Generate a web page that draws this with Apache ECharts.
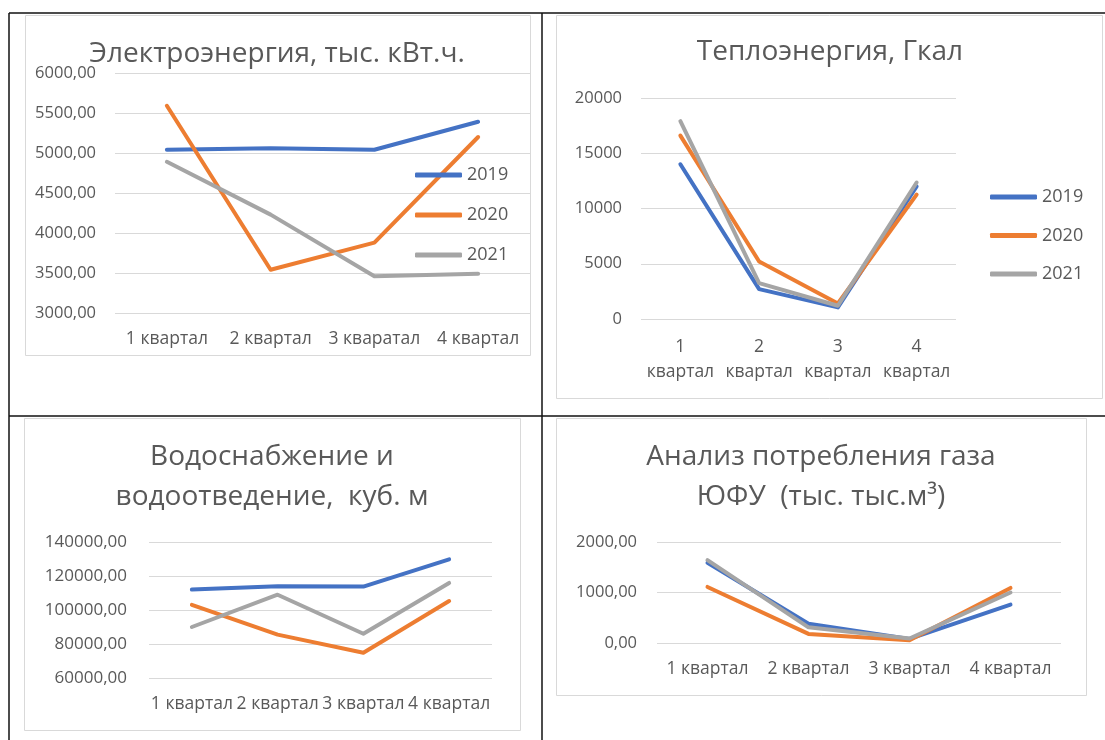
<!DOCTYPE html>
<html><head><meta charset="utf-8">
<script src="https://cdn.jsdelivr.net/npm/echarts@6/dist/echarts.min.js"></script>
<style>html,body{margin:0;padding:0;background:#fff}#c{width:1105px;height:740px}</style>
</head><body><div id="c"></div>
<script>
// ---- data ----
const years = ['2019', '2020', '2021'];
const quartersElectro = ['1 квартал', '2 квартал', '3 кваратал', '4 квартал'];
const quarters = ['1 квартал', '2 квартал', '3 квартал', '4 квартал'];

const electro2019 = [5040, 5060, 5040, 5390];
const electro2020 = [5590, 3540, 3880, 5200];
const electro2021 = [4890, 4230, 3460, 3490];

const heat2019 = [14000, 2700, 1050, 12000];
const heat2020 = [16600, 5200, 1400, 11250];
const heat2021 = [17900, 3250, 1200, 12350];

const water2019 = [112000, 114000, 113800, 129800];
const water2020 = [103000, 85500, 74900, 105300];
const water2021 = [90000, 109000, 86000, 115900];

const gas2019 = [1590, 380, 80, 760];
const gas2020 = [1110, 180, 55, 1090];
const gas2021 = [1640, 310, 90, 1000];

const titles = [
  'Электроэнергия, тыс. кВт.ч.',
  'Теплоэнергия, Гкал',
  'Водоснабжение и\nводоотведение,  куб. м',
  'Анализ потребления газа\nЮФУ  (тыс. тыс.м³)'
];

// ---- styling ----
const FONT = 'Open Sans';
const colors = ['#4472C4', '#ED7D31', '#A5A5A5'];
const txt = '#595959';
const grid = '#D9D9D9';

const grids = [
  {left: 115, top: 73, width: 415, height: 240},
  {left: 641, top: 98, width: 315, height: 221},
  {left: 149, top: 542, width: 343, height: 136},
  {left: 657, top: 542, width: 404, height: 101}
];
const yRanges = [
  {min: 3000, max: 6000, interval: 500, dec: 2, margin: 19},
  {min: 0, max: 20000, interval: 5000, dec: 0, margin: 19},
  {min: 60000, max: 140000, interval: 20000, dec: 2, margin: 22},
  {min: 0, max: 2000, interval: 1000, dec: 2, margin: 20}
];
const cats = [quartersElectro, quarters, quarters, quarters];
const dataSets = [
  [electro2019, electro2020, electro2021],
  [heat2019, heat2020, heat2021],
  [water2019, water2020, water2021],
  [gas2019, gas2020, gas2021]
];

const xAxis = cats.map((c, i) => ({
  type: 'category', gridIndex: i, data: c, boundaryGap: true,
  axisLine: {show: false}, axisTick: {show: false},
  axisLabel: {
    color: txt, fontFamily: FONT, fontSize: 17.5, interval: 0, margin: i === 1 ? 16 : 17,
    lineHeight: i === 1 ? 25 : 19,
    formatter: i === 1 ? (v => v.replace(' ', '\n')) : undefined
  }
}));
const yAxis = yRanges.map((r, i) => ({
  type: 'value', gridIndex: i, min: r.min, max: r.max, interval: r.interval,
  axisLine: {show: false}, axisTick: {show: false},
  splitLine: {lineStyle: {color: grid, width: 1}},
  axisLabel: {
    color: txt, fontFamily: FONT, fontSize: i === 2 ? 17 : 16.5, margin: r.margin,
    formatter: v => r.dec ? v.toFixed(r.dec).replace('.', ',') : String(v)
  }
}));

const series = [];
dataSets.forEach((set, gi) => {
  set.forEach((d, si) => {
    series.push({
      type: 'line', name: years[si], xAxisIndex: gi, yAxisIndex: gi, data: d,
      symbol: 'none', color: colors[si],
      lineStyle: {width: 4, color: colors[si], cap: 'round', join: 'round'},
      animation: false
    });
  });
});

const titleComp = [
  {text: titles[0], left: 277, top: 34},
  {text: titles[1], left: 830, top: 32},
  {text: titles[2], left: 272, top: 437},
  {text: titles[3], left: 821, top: 437}
].map(t => Object.assign(t, {
  textAlign: 'center', padding: 0,
  textStyle: {fontFamily: FONT, fontWeight: 'normal', fontSize: 28, color: txt, lineHeight: 40}
}));

const legendBase = {
  orient: 'vertical', data: years, itemWidth: 47, itemHeight: 5,
  icon: 'roundRect',
  textStyle: {fontFamily: FONT, fontSize: 18, color: txt, lineHeight: 20},
  selectedMode: false
};
const legends = [
  Object.assign({}, legendBase, {left: 410, top: 160, itemGap: 20}),
  Object.assign({}, legendBase, {left: 985, top: 182, itemGap: 18.5})
];

const line = (x1, y1, x2, y2) => ({type: 'line', z: -5, shape: {x1, y1, x2, y2},
  style: {stroke: '#111', lineWidth: 1.5}});
const box = (x, y, w, h) => ({type: 'rect', z: -10, shape: {x, y, width: w, height: h},
  style: {fill: '#fff', stroke: '#D9D9D9', lineWidth: 1}});

const graphic = [
  box(25.5, 15.5, 505, 340),
  box(556.5, 15.5, 546, 383),
  box(24.5, 418.5, 496, 312),
  box(556.5, 418.5, 530, 277),
  line(9, 13, 1105, 13),
  line(9, 13, 9, 740),
  line(542, 13, 542, 740),
  line(9, 416, 1105, 416)
];

const chart = echarts.init(document.getElementById('c'));
chart.setOption({
  animation: false,
  backgroundColor: '#fff',
  title: titleComp,
  legend: legends,
  grid: grids,
  xAxis, yAxis, series, graphic
});
</script></body></html>
